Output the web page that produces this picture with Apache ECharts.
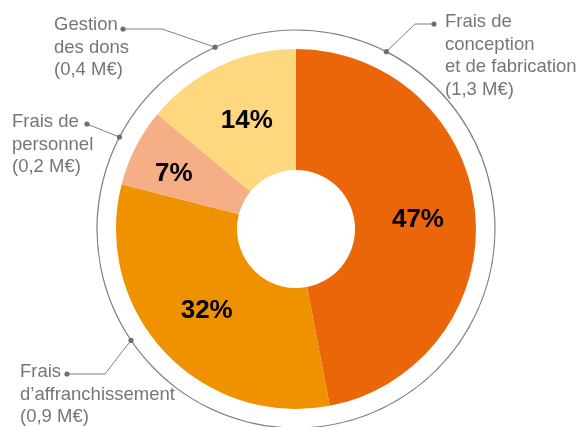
<!DOCTYPE html>
<html>
<head>
<meta charset="utf-8">
<script src="https://cdn.jsdelivr.net/npm/echarts@6/dist/echarts.min.js"></script>
<style>
  html, body { margin: 0; padding: 0; background: #fff; }
  #main { width: 578px; height: 427px; }
</style>
</head>
<body>
<div id="main"></div>
<script>
// Répartition des dépenses
const categories = [
  'Frais de\nconception\net de fabrication',
  'Frais\nd’affranchissement',
  'Frais de\npersonnel',
  'Gestion\ndes dons'
]
const percents = [47, 32, 7, 14]
const amounts = [1.3, 0.9, 0.2, 0.4] // M€
const colors = ['#EA6609', '#F09100', '#F6AE86', '#FED77E']

// mise en page des étiquettes extérieures (placées à la main dans l'original)
const CX = 296, CY = 229, RING = 199
const labelBoxes = [[445, 11], [20, 361], [12, 111], [54, 14]] // coin haut-gauche du texte
const anchorDeg = [27, -124, -62.5, -24] // point d'accroche sur le cercle
const elbows = [[415, 24], [105, 374], null, [162, 29]]
const lineEnds = [[434, 24], [67, 374], [87, 124], [123, 29]]
const innerShift = [[0, 2], [0, -2], [-13, 0], [3, 3]] // petits décalages des pourcentages

function ringPoint(i) {
  const a = anchorDeg[i] * Math.PI / 180
  return [CX + RING * Math.sin(a), CY - RING * Math.cos(a)]
}
function leaderPoints(i) {
  const p0 = ringPoint(i)
  const p2 = lineEnds[i]
  const p1 = elbows[i] || [(p0[0] + p2[0]) / 2, (p0[1] + p2[1]) / 2]
  return [p0, p1, p2]
}

const fmt = v => v.toFixed(1).replace('.', ',')

const dots = []
categories.forEach((c, i) => {
  leaderPoints(i).filter((p, k) => k !== 1).forEach(p => {
    dots.push({
      type: 'circle', silent: true, z: 10,
      shape: { cx: p[0], cy: p[1], r: 2.6 },
      style: { fill: '#6e6e6e' }
    })
  })
})

const chart = echarts.init(document.getElementById('main'))
chart.setOption({
  animation: false,
  color: colors,
  graphic: dots,
  series: [{
    type: 'pie',
    center: [CX, CY],
    radius: [59, 180],
    startAngle: 90,
    silent: true,
    label: {
      show: true,
      position: 'inside',
      color: '#000',
      fontFamily: 'Liberation Sans',
      fontWeight: 'bold',
      fontSize: 26,
      formatter: p => percents[p.dataIndex] + '%'
    },
    labelLayout: params => ({
      dx: innerShift[params.dataIndex][0],
      dy: innerShift[params.dataIndex][1]
    }),
    labelLine: { show: false },
    itemStyle: { borderWidth: 0 },
    data: categories.map((c, i) => ({ name: c, value: percents[i] }))
  }, {
    // cercle gris + étiquettes extérieures
    type: 'pie',
    center: [CX, CY],
    radius: [198.4, 199.6],
    startAngle: 90,
    silent: true,
    itemStyle: { color: '#7f7f7f', borderWidth: 0 },
    label: {
      show: true,
      position: 'outside',
      overflow: 'none',
      color: '#767676',
      fontFamily: 'Liberation Sans',
      fontSize: 18.5,
      lineHeight: 22.5,
      formatter: p => categories[p.dataIndex] + '\n(' + fmt(amounts[p.dataIndex]) + ' M€)'
    },
    labelLine: { show: true, lineStyle: { color: '#7f7f7f', width: 1 } },
    labelLayout: params => {
      const i = params.dataIndex
      return {
        x: labelBoxes[i][0],
        y: labelBoxes[i][1],
        width: 200,
        align: 'left',
        verticalAlign: 'top',
        labelLinePoints: leaderPoints(i)
      }
    },
    data: categories.map((c, i) => ({ name: c, value: percents[i] }))
  }]
})
</script>
</body>
</html>
